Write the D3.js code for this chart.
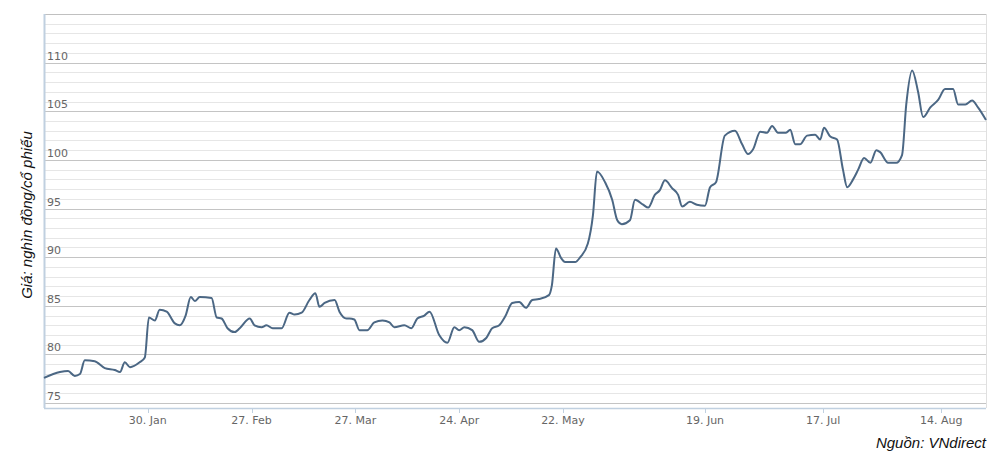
<!DOCTYPE html>
<html><head><meta charset="utf-8">
<script src="https://cdn.jsdelivr.net/npm/d3@7"></script>
<style>body{margin:0;background:#fff}</style>
</head><body><svg id="c" width="992" height="467"></svg>
<script>
// day of year (2017) and closing price
const days = [2,6.3,8.5,10.3,11.7,13,15.7,18.4,21.1,22.5,23.8,25.2,27.8,29.2,30.3,31.9,33.2,35.1,37.3,38.6,40.2,41.6,42.7,44,47.2,48.6,49.9,51.5,53.4,54.8,57.5,58.8,60.7,62,63.7,66.1,68.2,69.6,71.5,73.6,75.2,76.3,77.7,80.4,81.7,83.6,84.4,85.7,87.1,89.2,91.1,93.3,95.2,96.5,99.2,101.1,102.7,104.6,106,108.6,110.8,112.7,114,115.4,117.5,119.4,121.3,122.9,124.8,126.4,128.3,130.2,132,133.7,135.5,138.2,139,140.1,141.5,142.4,144.4,145.4,146.9,147.9,148.7,150.3,151.7,152.7,153.6,155.2,156.2,157.8,158.8,160.1,161.1,162.1,163.5,164.7,165.5,167,168.4,170,171.2,172.6,174.7,177.1,178.8,180.2,181.4,183.1,184.7,185.9,187.3,189.2,190.2,191.4,192.5,194.2,196.1,197.3,198.2,199.7,201.3,202.7,203.7,205.1,206.3,207.7,209.2,210.6,211.5,213.4,215.3,216.7,217.7,219.1,220.5,221.7,223.4,225.3,226.9,228.8,230,231.7,233.3,234.7,236.6];
const prices = [77.6,78.2,78.3,77.8,78,79.4,79.3,78.6,78.4,78.2,79.2,78.7,79.2,79.7,83.8,83.5,84.6,84.4,83.2,83,84,85.9,85.5,85.9,85.8,83.8,83.7,82.7,82.3,82.7,83.7,83,82.8,83,82.7,82.7,84.3,84.1,84.3,85.6,86.3,84.9,85.3,85.6,84.4,83.7,83.7,83.6,82.5,82.5,83.3,83.5,83.3,82.8,83,82.7,83.7,84,84.4,82,81.2,82.8,82.5,82.8,82.5,81.3,81.7,82.7,83,83.9,85.3,85.4,84.8,85.6,85.7,86.1,87.1,90.9,89.9,89.5,89.5,90,91.4,94.3,98.8,97.7,95.9,93.8,93.4,93.8,95.9,95.4,95.1,96.4,96.9,97.9,97.1,96.4,95.2,95.7,95.4,95.3,97.2,97.7,102.5,103,101.6,100.6,101.1,102.9,102.8,103.5,102.8,102.8,103.1,101.6,101.6,102.5,102.6,102.1,103.3,102.4,102.1,99,97.2,98,99,100.2,99.7,101,100.8,99.7,99.7,100.5,105.7,109.2,107,104.4,105.4,106.2,107.3,107.3,105.7,105.7,106.1,105.4,104.1];
const tickDays = [30,58,86,114,142,170,198,226];
const tickLabels = ["30. Jan","27. Feb","27. Mar","24. Apr","22. May","19. Jun","17. Jul","14. Aug"];
const yTicks = [75,80,85,90,95,100,105,110];

const svg = d3.select("#c");
const L = 44, R = 986, T = 14, B = 408;
// ordinal-like axis: spacing between ticks differs, so piecewise scale
const x = d3.scaleLinear()
  .domain([2,142,170,236.6])
  .range([L,563,705,R]);
const y = d3.scaleLinear().domain([74.5,115]).range([B,T]);

// grid
svg.append("g").selectAll("line").data(d3.range(75,115))
  .join("line")
  .attr("x1", L).attr("x2", R)
  .attr("y1", d => Math.round(y(d)) + 0.5).attr("y2", d => Math.round(y(d)) + 0.5)
  .attr("stroke", d => d % 5 === 0 ? "#c4c4c4" : "#e6e6e6");
svg.append("line").attr("x1", L).attr("x2", R).attr("y1", T + 0.5).attr("y2", T + 0.5).attr("stroke", "#c0c0c0");
svg.append("line").attr("x1", R + 0.5).attr("x2", R + 0.5).attr("y1", T).attr("y2", B).attr("stroke", "#e0e0e0");
svg.append("line").attr("x1", L + 0.5).attr("x2", L + 0.5).attr("y1", T).attr("y2", B).attr("stroke", "#c0d0e0").attr("stroke-width", 2);

// y labels inside plot
svg.append("g").selectAll("text").data(yTicks).join("text")
  .attr("x", L + 3).attr("y", d => y(d) - 3)
  .attr("font-family", "DejaVu Sans, sans-serif").attr("font-size", 11).attr("fill", "#666")
  .text(d => d);

// x axis
const xa = svg.append("g").attr("transform", `translate(0,${B})`);
xa.append("line").attr("x1", L).attr("x2", R).attr("y1", 0.5).attr("y2", 0.5).attr("stroke", "#c0d0e0").attr("stroke-width", 1.5);
xa.selectAll("line.t").data(tickDays).join("line").attr("class", "t")
  .attr("x1", d => Math.round(x(d)) + 0.5).attr("x2", d => Math.round(x(d)) + 0.5)
  .attr("y1", 0).attr("y2", 5).attr("stroke", "#c0d0e0");
xa.selectAll("text").data(tickDays).join("text")
  .attr("x", d => x(d)).attr("y", 16).attr("text-anchor", "middle")
  .attr("font-family", "DejaVu Sans, sans-serif").attr("font-size", 11).attr("fill", "#666")
  .text((d, i) => tickLabels[i]);

// price line
const line = d3.line().x((d, i) => x(days[i])).y(d => y(d)).curve(d3.curveMonotoneX);
svg.append("path").attr("d", line(prices))
  .attr("fill", "none").attr("stroke", "#4b6784").attr("stroke-width", 2);

svg.append("text")
  .attr("transform", "translate(32,215) rotate(-90)").attr("text-anchor", "middle")
  .attr("font-family", "Liberation Sans, Arial, sans-serif").attr("font-style", "italic")
  .attr("font-size", 15).attr("fill", "#111")
  .text("Giá: nghìn đồng/cổ phiếu");

svg.append("text")
  .attr("x", R).attr("y", 448).attr("text-anchor", "end")
  .attr("font-family", "Liberation Sans, Arial, sans-serif").attr("font-style", "italic")
  .attr("font-size", 15).attr("fill", "#111")
  .text("Nguồn: VNdirect");
</script></body></html>
